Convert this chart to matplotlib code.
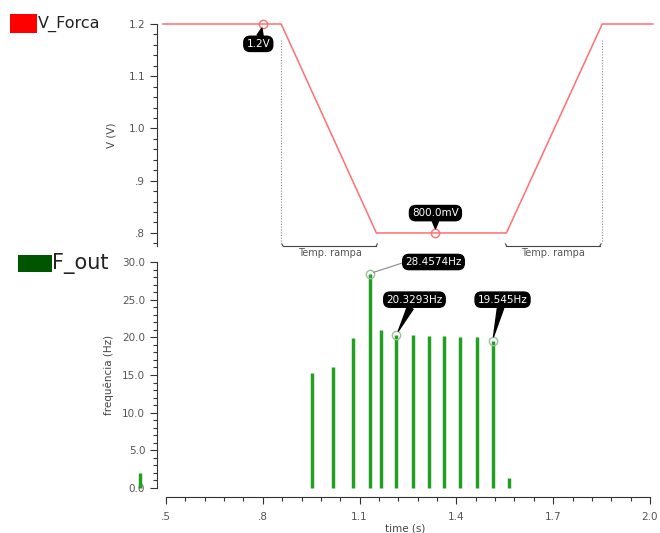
import matplotlib
matplotlib.use("Agg")
import matplotlib.pyplot as plt
from matplotlib.patches import Rectangle

# ---- data ----
v_time = [0.49, 0.857, 1.152, 1.555, 1.852, 2.009]
v_volt = [1.2, 1.2, 0.8, 0.8, 1.2, 1.2]

f_time = [0.42, 0.953, 1.019, 1.081, 1.131, 1.167, 1.214, 1.264, 1.314,
          1.361, 1.410, 1.463, 1.512, 1.562]
f_vals = [2.0, 15.3, 16.1, 19.9, 28.4574, 21.0, 20.3293, 20.3, 20.2,
          20.2, 20.1, 20.1, 19.545, 1.3]

x_ticks = [0.5, 0.8, 1.1, 1.4, 1.7, 2.0]
x_tick_labels = [".5", ".8", "1.1", "1.4", "1.7", "2.0"]
v_ticks = [0.8, 0.9, 1.0, 1.1, 1.2]
v_tick_labels = [".8", ".9", "1.0", "1.1", "1.2"]
f_ticks = [0, 5, 10, 15, 20, 25, 30]
f_tick_labels = ["0.0", "5.0", "10.0", "15.0", "20.0", "25.0", "30.0"]

ramp_spans = [(0.862, 1.152), (1.555, 1.845)]
dotted_x = [0.857, 1.852]

v_marks = [(0.8, 1.2, "1.2V", 0.786, 1.162), (1.335, 0.8, "800.0mV", 1.335, 0.838)]
f_marks = [(1.131, 28.4574, "28.4574Hz", 1.329, 30.0),
           (1.214, 20.3293, "20.3293Hz", 1.270, 25.0),
           (1.512, 19.545, "19.545Hz", 1.543, 25.0)]

W, H = 660, 533
fig = plt.figure(figsize=(6.6, 5.33), dpi=100)
xl = (0.5 - 9 / 322, 2.0 + 3 / 322)
ax_l, ax_w = 157 / W, 496 / W

tick_col = "#555555"
lab_col = "#444444"
fs = 7.5

def style(ax):
    for s in ["top", "right"]:
        ax.spines[s].set_visible(False)
    ax.spines["left"].set_color("#333333")
    ax.tick_params(axis="y", which="both", direction="out", colors="#333333",
                   labelcolor=tick_col, labelsize=fs)
    ax.tick_params(axis="y", which="major", length=5, width=0.8)
    ax.tick_params(axis="y", which="minor", length=3, width=0.8)

# ---- top axes ----
ax1 = fig.add_axes([ax_l, (H - 246) / H, ax_w, 222 / H])
ax1.set_xlim(*xl)
ax1.set_ylim(0.775, 1.2)
style(ax1)
ax1.spines["bottom"].set_visible(False)
ax1.set_xticks([])
ax1.set_yticks(v_ticks)
ax1.set_yticklabels(v_tick_labels)
ax1.set_yticks([0.78 + 0.02 * i for i in range(22)], minor=True)
ax1.plot(v_time, v_volt, color="#ff6f6f", lw=1.1, clip_on=False)
ax1.set_ylabel("V (V)", fontsize=fs, color=lab_col, labelpad=9)

for x in dotted_x:
    ax1.plot([x, x], [1.17, 0.78], ls=(0, (1, 1.5)), color="#888888", lw=0.8)
for a, b in ramp_spans:
    ax1.plot([a, b], [0.7755, 0.7755], color="#444444", lw=0.8, clip_on=False)
    ax1.plot([a, a - 0.003], [0.7755, 0.779], color="#444444", lw=0.8, clip_on=False)
    ax1.plot([b, b + 0.003], [0.7755, 0.779], color="#444444", lw=0.8, clip_on=False)
    ax1.text((a + b) / 2, 0.772, "Temp. rampa", ha="center", va="top",
             fontsize=7, color="#555555", clip_on=False)

for mx, my, txt, tx, ty in v_marks:
    ax1.plot([mx], [my], "o", mfc="none", mec="#ff6f6f", ms=6, mew=1, clip_on=False)
    ax1.annotate(txt, xy=(mx, my), xytext=(tx, ty), ha="center", va="center",
                 fontsize=7.5, color="white",
                 bbox=dict(boxstyle="round,pad=0.25,rounding_size=0.6", fc="black", ec="black"),
                 arrowprops=dict(arrowstyle="wedge,tail_width=0.6,shrink_factor=0.5",
                                 fc="black", ec="black", shrinkA=0, shrinkB=3),
                 annotation_clip=False)

# ---- bottom axes ----
ax2 = fig.add_axes([ax_l, (H - 488) / H, ax_w, 226 / H])
ax2.set_xlim(*xl)
ax2.set_ylim(0, 30)
style(ax2)
ax2.spines["bottom"].set_position(("outward", 6.5))
ax2.spines["bottom"].set_bounds(0.5, 2.0)
ax2.spines["bottom"].set_color("#333333")
ax2.set_xticks(x_ticks)
ax2.set_xticklabels(x_tick_labels)
ax2.set_xticks([0.5 + 0.06 * i for i in range(26)], minor=True)
ax2.tick_params(axis="x", which="both", direction="out", colors="#333333",
                labelcolor=tick_col, labelsize=fs)
ax2.tick_params(axis="x", which="major", length=5, width=0.8, pad=6)
ax2.tick_params(axis="x", which="minor", length=3, width=0.8)
ax2.set_yticks(f_ticks)
ax2.set_yticklabels(f_tick_labels)
ax2.set_yticks(list(range(31)), minor=True)
ax2.vlines(f_time, 0, f_vals, color="#22a022", lw=2.5, clip_on=False)
ax2.set_ylabel("frequência (Hz)", fontsize=fs, color=lab_col, labelpad=6)
ax2.set_xlabel("time (s)", fontsize=fs, color=lab_col, labelpad=1)

for mx, my, txt, tx, ty in f_marks:
    ax2.plot([mx], [my], "o", mfc="none", mec="#9ac09a", ms=6, mew=1, clip_on=False)
    if txt.startswith("28"):
        ap = dict(arrowstyle="-", color="#888888", lw=0.8, shrinkA=0, shrinkB=3,
                  relpos=(0, 0.5))
    else:
        ap = dict(arrowstyle="wedge,tail_width=0.6,shrink_factor=0.5",
                  fc="black", ec="black", shrinkA=0, shrinkB=3)
    ax2.annotate(txt, xy=(mx, my), xytext=(tx, ty), ha="center", va="center",
                 fontsize=7.5, color="white",
                 bbox=dict(boxstyle="round,pad=0.25,rounding_size=0.6", fc="black", ec="black"),
                 arrowprops=ap, annotation_clip=False)

# ---- legend-like labels ----
fig.patches.append(Rectangle((10 / W, (H - 33) / H), 27 / W, 19 / H,
                             transform=fig.transFigure, fc="#ff0000", ec="none"))
fig.text(38 / W, (H - 24) / H, "V_Forca", fontsize=11.5, va="center", ha="left", color="#222222")
fig.patches.append(Rectangle((18 / W, (H - 272) / H), 34 / W, 17 / H,
                             transform=fig.transFigure, fc="#005500", ec="none"))
fig.text(52 / W, (H - 264) / H, "F_out", fontsize=15, va="center", ha="left", color="#222222")

fig.savefig("out.png", dpi=100)
